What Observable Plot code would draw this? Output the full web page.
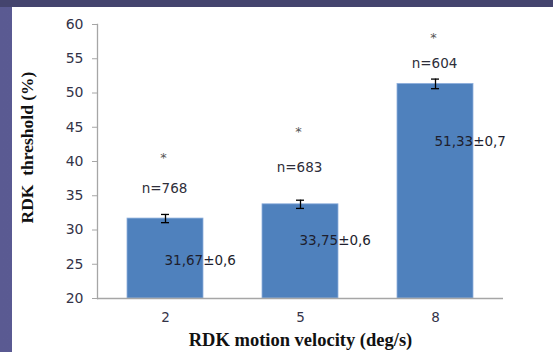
<!DOCTYPE html>
<html>
<head>
<meta charset="utf-8">
<script src="https://cdn.jsdelivr.net/npm/d3@7"></script>
<script src="https://cdn.jsdelivr.net/npm/@observablehq/plot@0.6"></script>
<style>
  html, body { margin: 0; padding: 0; }
  body { width: 553px; height: 352px; overflow: hidden; position: relative;
         background: linear-gradient(90deg, #5a5a92 0%, #60609a 100%); }
  #topbar { position: absolute; left: 0; top: 0; width: 553px; height: 7px; background: #44446e; }
  #panel { position: absolute; left: 12px; top: 7px; width: 541px; height: 345px; background: #ffffff; }
</style>
</head>
<body>
<div id="topbar"></div>
<div id="panel"></div>
<script>
// Data
const velocities = ["2", "5", "8"];
const thresholds = [31.67, 33.75, 51.33];
const sems = [0.6, 0.6, 0.7];
const nTrials = [768, 683, 604];
const valueLabels = ["31,67±0,6", "33,75±0,6", "51,33±0,7"];
const yTicks = [20, 25, 30, 35, 40, 45, 50, 55, 60];
// annotation anchor heights (data units)
const starY = [40.6, 44.4, 58.0];
const nLabelY = [36.1, 39.1, 54.3];
const valueLabelY = [25.55, 28.47, 42.9];

const rows = velocities.map((v, i) => ({
  v, t: thresholds[i], e: sems[i], n: nTrials[i], lab: valueLabels[i],
  sy: starY[i], ny: nLabelY[i], vy: valueLabelY[i]
}));

const sans = "DejaVu Sans, Verdana, sans-serif";
const serif = "Liberation Serif, Times New Roman, serif";

const chart = Plot.plot({
  width: 541,
  height: 345,
  marginLeft: 85,
  marginRight: 50,
  marginTop: 17,
  marginBottom: 54,
  style: { background: "transparent", fontFamily: sans, overflow: "visible" },
  x: { domain: velocities, paddingInner: 0.44, paddingOuter: 0.22, label: null },
  y: { domain: [20, 60], label: null },
  marks: [
    Plot.barY(rows, { x: "v", y1: 20, y2: "t", fill: "#4f81bd", stroke: "#8fb0dd", strokeWidth: 0.8 }),
    Plot.ruleY([20], { stroke: "#a6a6a6", strokeWidth: 1.3 }),
    Plot.frame({ anchor: "left", stroke: "#a6a6a6", strokeWidth: 1.3 }),
    Plot.axisY({ ticks: yTicks, tickSize: 5, tickPadding: 9, stroke: "#a6a6a6", fill: "#333348", fontSize: 14, tickFormat: d => d }),
    Plot.axisX({ tickSize: 0, tickPadding: 14, fill: "#333348", fontSize: 13.5 }),
    // error bars
    Plot.ruleX(rows, { x: "v", y1: d => d.t - d.e, y2: d => d.t + d.e, stroke: "#000", strokeWidth: 1.3 }),
    Plot.tickY(rows, { x: "v", y: d => d.t - d.e, stroke: "#000", strokeWidth: 1.3, insetLeft: 34, insetRight: 34 }),
    Plot.tickY(rows, { x: "v", y: d => d.t + d.e, stroke: "#000", strokeWidth: 1.3, insetLeft: 34, insetRight: 34 }),
    // annotations
    Plot.text(rows, { x: "v", y: "sy", text: () => "*", fill: "#555", fontSize: 13, dx: -2 }),
    Plot.text(rows, { x: "v", y: "ny", text: d => "n=" + d.n, fill: "#2e2e3a", fontSize: 13.5, dx: -1 }),
    Plot.text(rows, { x: "v", y: "vy", text: "lab", fill: "#1e1e2e", fontSize: 13.5, textAnchor: "start", dx: -1 }),
    // axis titles
    Plot.text(["RDK  threshold (%)"], { frameAnchor: "left", textAnchor: "middle", lineAnchor: "middle", dx: -70, dy: -14, rotate: -90, fontFamily: serif, fontWeight: "bold", fontSize: 17.5, fill: "#111" }),
    Plot.text(["RDK motion velocity (deg/s)"], { frameAnchor: "bottom", textAnchor: "middle", lineAnchor: "middle", dy: 42, fontFamily: serif, fontWeight: "bold", fontSize: 18.5, fill: "#111" })
  ]
});
document.getElementById("panel").appendChild(chart);
</script>
</body>
</html>
